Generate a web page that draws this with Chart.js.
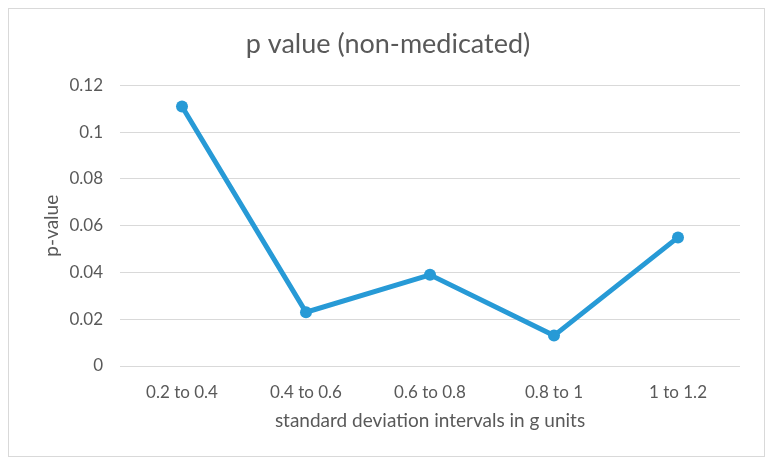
<!DOCTYPE html>
<html>
<head>
<meta charset="utf-8">
<script src="https://cdn.jsdelivr.net/npm/chart.js@4"></script>
<style>
    html, body { margin: 0; padding: 0; background: #ffffff; }
    #wrap { position: relative; width: 775px; height: 469px; }
    #frame {
        position: absolute; left: 8px; top: 8px; width: 757px; height: 449px;
        border: 1px solid #d9d9d9; box-sizing: border-box;
    }
    #pChart { position: absolute; left: 0; top: 0; }
</style>
</head>
<body>
<div id="wrap">
    <div id="frame"></div>
    <canvas id="pChart" width="775" height="469"></canvas>
</div>
<script>
const categories = ['0.2 to 0.4', '0.4 to 0.6', '0.6 to 0.8', '0.8 to 1', '1 to 1.2'];
const pValues = [0.111, 0.023, 0.039, 0.013, 0.055];
const yTicks = [0, 0.02, 0.04, 0.06, 0.08, 0.1, 0.12];

document.addEventListener('DOMContentLoaded', function () {
    const canvas = document.getElementById('pChart');
    if (!canvas || typeof Chart === 'undefined') {
        return;
    }

    const textColor = '#595959';
    const lineColor = '#279ad6';
    const fontFamily = 'Lato';

    new Chart(canvas.getContext('2d'), {
        type: 'line',
        data: {
            labels: categories,
            datasets: [
                {
                    label: 'p value',
                    data: pValues,
                    borderColor: lineColor,
                    backgroundColor: lineColor,
                    borderWidth: 5,
                    tension: 0,
                    pointRadius: 6,
                    pointBackgroundColor: lineColor,
                    pointBorderColor: lineColor,
                    pointBorderWidth: 0
                }
            ]
        },
        options: {
            responsive: false,
            animation: false,
            layout: {
                padding: { left: 36, right: 35, top: 0, bottom: 34 }
            },
            plugins: {
                legend: { display: false },
                tooltip: { enabled: false },
                title: {
                    display: true,
                    text: 'p value (non-medicated)',
                    color: textColor,
                    font: { family: fontFamily, size: 27, weight: 'normal' },
                    padding: { top: 28, bottom: 25 }
                }
            },
            scales: {
                x: {
                    offset: true,
                    grid: { display: false },
                    border: { display: false },
                    ticks: {
                        color: textColor,
                        padding: 8,
                        font: { family: fontFamily, size: 17 }
                    },
                    title: {
                        display: true,
                        text: 'standard deviation intervals in g units',
                        color: textColor,
                        font: { family: fontFamily, size: 19 },
                        padding: { top: 4, bottom: 3 }
                    },
                    afterFit: function (scale) {
                        scale.height = 69;
                    }
                },
                y: {
                    min: 0,
                    max: 0.12,
                    afterBuildTicks: function (scale) {
                        scale.ticks = yTicks.map(function (v) { return { value: v }; });
                    },
                    grid: {
                        color: '#d9d9d9',
                        lineWidth: 1,
                        drawTicks: false
                    },
                    border: { display: false },
                    ticks: {
                        color: textColor,
                        padding: 17,
                        font: { family: fontFamily, size: 17 },
                        callback: function (value) {
                            return String(Number(value.toFixed(2)));
                        }
                    },
                    title: {
                        display: true,
                        text: 'p-value',
                        color: textColor,
                        font: { family: fontFamily, size: 19 },
                        padding: { top: 4, bottom: 4 }
                    },
                    afterFit: function (scale) {
                        scale.width = 84;
                    }
                }
            }
        }
    });
});
</script>
</body>
</html>
